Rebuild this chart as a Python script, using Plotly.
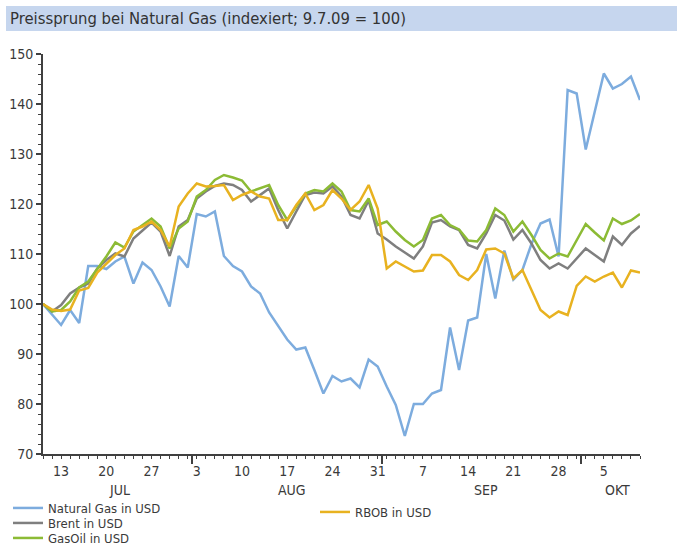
import pandas as pd
import plotly.graph_objects as go

# ---- data (indexed, 9.7.09 = 100), business days 9 Jul 2009 .. 9 Oct 2009 ----
start_date = "2009-07-09"
end_date = "2009-10-09"
dates = pd.bdate_range(start_date, end_date)

natural_gas = [100, 98, 95.8, 98.8, 96.2, 107.6, 107.6, 107, 108.5, 109.5,
               104.1, 108.3, 106.8, 103.5, 99.5, 109.6, 107.3, 118, 117.5, 118.5,
               109.6, 107.6, 106.5, 103.5, 102.1, 98.3, 95.5, 92.9, 90.9, 91.3,
               86.8, 82.1, 85.6, 84.5, 85.1, 83.3, 88.9, 87.5, 83.5, 79.8,
               73.6, 80, 80, 82.1, 82.8, 95.3, 86.8, 96.7, 97.3, 110,
               101.1, 110.7, 104.9, 106.8, 112, 116.1, 116.9, 109.5, 142.8, 142.1,
               130.9, 138.7, 146.1, 143.1, 144, 145.5, 140.8]

brent = [100, 98.5, 99.8, 102.1, 103.3, 104.1, 107.1, 108.8, 110.1, 109.5,
         113.1, 114.8, 116.3, 114.5, 109.6, 115.5, 116.8, 121.1, 122.5, 123.6,
         124.1, 123.8, 122.8, 120.5, 121.8, 123.1, 118.8, 115.1, 118.5, 121.8,
         122.3, 122.1, 123.5, 121.5, 117.8, 117.1, 120.7, 114.1, 112.9, 111.5,
         110.3, 109.1, 111.5, 116.3, 116.8, 115.5, 114.8, 111.8, 111.1, 114.1,
         117.8, 116.7, 112.9, 114.8, 112.1, 108.8, 107.1, 108.1, 107.1, 109.1,
         111.1, 109.8, 108.5, 113.5, 111.8, 114.1, 115.6]

gasoil = [100, 98.5, 98.8, 100.5, 103.3, 104.5, 107, 109.5, 112.3, 111.3,
          114.5, 115.8, 117.1, 115.5, 111.1, 115.1, 116.5, 121.5, 122.8, 124.8,
          125.8, 125.3, 124.7, 122.5, 123.1, 123.8, 119.8, 116.8, 119.5, 122.1,
          122.8, 122.5, 124.1, 122.5, 118.8, 118.5, 121.1, 115.8, 116.5, 114.5,
          112.8, 111.5, 112.8, 117.1, 117.8, 115.8, 114.9, 112.7, 112.5, 114.8,
          119.1, 117.8, 114.5, 116.5, 113.8, 110.8, 109.1, 110.1, 109.5, 112.8,
          116, 114.3, 112.7, 117.1, 116, 116.7, 118]

rbob = [100, 98.9, 98.6, 98.9, 102.7, 103.2, 106.3, 108, 109.8, 111.1,
        114.8, 115.5, 116.5, 114.8, 111.5, 119.5, 122.1, 124.1, 123.5, 123.6,
        123.8, 120.8, 121.8, 122.5, 121.5, 121.1, 116.8, 116.8, 119.8, 122.1,
        118.8, 119.8, 122.8, 121.1, 118.8, 120.5, 123.8, 119.1, 107.1, 108.5,
        107.5, 106.5, 106.7, 109.8, 109.8, 108.5, 105.8, 104.8, 106.8, 110.9,
        111.1, 110.1, 105.1, 106.8, 102.8, 98.8, 97.3, 98.5, 97.8, 103.6,
        105.5, 104.5, 105.5, 106.3, 103.3, 106.7, 106.3]

series_names = ["Natural Gas in USD", "Brent in USD", "GasOil in USD", "RBOB in USD"]
month_names = {7: "JUL", 8: "AUG", 9: "SEP", 10: "OKT"}
title_text = "Preissprung bei Natural Gas (indexiert; 9.7.09 = 100)"
y_ticks = [70, 80, 90, 100, 110, 120, 130, 140, 150]

# ---- style ----
FONT = "DejaVu Sans Condensed, Liberation Sans Narrow, sans-serif"
TXT = "#3a3a3a"
AX = "#404040"
colors = ["#7dacde", "#7f7f7f", "#8cbb35", "#e8b220"]

W, H = 677, 550
L, R, T, B = 43, 37, 54, 96
PW, PH = W - L - R, H - T - B


def px_x(p):
    return (p - L) / PW


def px_y(p):
    return (H - B - p) / PH


fig = go.Figure()
series = [natural_gas, brent, gasoil, rbob]
legend_ids = ["legend", "legend2", "legend3", "legend4"]
xaxes = ["x", "x", "x", "x2"]
for name, vals, col, lg, xa in zip(series_names, series, colors, legend_ids, xaxes):
    fig.add_trace(go.Scatter(x=dates, y=vals, mode="lines", name=name, xaxis=xa,
                             line=dict(color=col, width=2.5), legend=lg))

# month boundaries and month label positions (computed from the business days)
dser = pd.Series(dates)
month_ticks = []
month_labels = []
for m, grp in dser.groupby(dser.dt.month):
    idx0 = grp.index[0]
    if idx0 > 0:
        month_ticks.append(dates[idx0 - 1] + pd.Timedelta(hours=12))
    mid_idx = (grp.index[0] + grp.index[-1]) / 2.0 + 0.5
    base = dates[int(mid_idx)]
    frac = mid_idx - int(mid_idx)
    month_labels.append((base + pd.Timedelta(hours=24 * frac), month_names[m]))

tick_text = [str(d.day) if d.weekday() == 0 else "" for d in dates]
rb = [dict(bounds=["sat", "mon"])]
xrange = [dates[0], dates[-1]]

fig.update_layout(
    width=W, height=H,
    margin=dict(l=L, r=R, t=T, b=B, autoexpand=False),
    paper_bgcolor="white", plot_bgcolor="white",
    font=dict(family=FONT, size=14, color=TXT),
    showlegend=True,
    xaxis=dict(type="date", range=xrange, rangebreaks=rb, automargin=False,
               tickmode="array", tickvals=list(dates), ticktext=tick_text,
               ticks="outside", ticklen=3, tickwidth=1, tickcolor=AX,
               showline=True, linecolor=AX, linewidth=2,
               showgrid=False, zeroline=False,
               tickfont=dict(family=FONT, size=14, color=TXT)),
    xaxis2=dict(type="date", range=xrange, rangebreaks=rb, overlaying="x", anchor="y",
                automargin=False, tickmode="array", tickvals=month_ticks,
                ticks="outside", ticklen=9, tickwidth=1.5, tickcolor=AX, side="bottom",
                showticklabels=False, showline=False, showgrid=False, zeroline=False),
    yaxis=dict(range=[70, 150], tickmode="array", tickvals=y_ticks, automargin=False,
               ticks="outside", ticklen=5, tickwidth=1.5, tickcolor=AX,
               minor=dict(ticks="outside", ticklen=3, dtick=2, tickcolor=AX, tickwidth=1),
               showline=True, linecolor=AX, linewidth=2,
               showgrid=False, zeroline=False, ticklabelstandoff=0,
               tickfont=dict(family=FONT, size=14, color=TXT)),
    yaxis2=dict(range=[70, 150], overlaying="y", side="right", anchor="x", automargin=False,
                tickmode="array", tickvals=y_ticks,
                ticks="inside", ticklen=5, tickwidth=1.5, tickcolor=AX,
                minor=dict(ticks="inside", ticklen=3, dtick=2, tickcolor=AX, tickwidth=1),
                showline=True, linecolor=AX, linewidth=2,
                showgrid=False, zeroline=False, ticklabelstandoff=5,
                tickfont=dict(family=FONT, size=14, color=TXT)),
)

leg_common = dict(xanchor="left", yanchor="middle", bgcolor="rgba(0,0,0,0)",
                  borderwidth=0, itemwidth=30, tracegroupgap=0,
                  font=dict(family=FONT, size=13, color=TXT))
fig.update_layout(
    legend=dict(x=px_x(8), y=px_y(508), **leg_common),
    legend2=dict(x=px_x(8), y=px_y(523), **leg_common),
    legend3=dict(x=px_x(8), y=px_y(538), **leg_common),
    legend4=dict(x=px_x(315), y=px_y(512), **leg_common),
)

# title bar
fig.add_shape(type="rect", xref="paper", yref="paper",
              x0=px_x(6), x1=px_x(W), y0=px_y(31), y1=px_y(6),
              fillcolor="#c6d6ee", line=dict(width=0), layer="below")
fig.add_annotation(text=title_text, xref="paper", yref="paper",
                   x=px_x(8), y=px_y(18.5), xanchor="left", yanchor="middle",
                   showarrow=False, font=dict(family=FONT, size=16.5, color="#333333"))

for xpos, lab in month_labels:
    fig.add_annotation(text=lab, xref="x", yref="paper", x=xpos, y=px_y(490),
                       xanchor="center", yanchor="middle", showarrow=False,
                       font=dict(family=FONT, size=14, color=TXT))

fig.write_html("out.html", config={"displayModeBar": False},
               post_script="document.body.style.margin='0';document.body.style.padding='0';")
